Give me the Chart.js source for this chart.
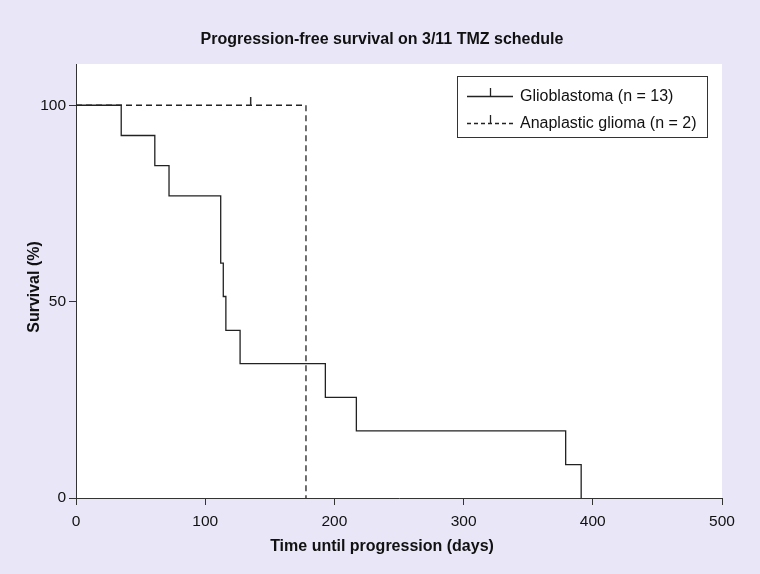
<!DOCTYPE html>
<html>
<head>
<meta charset="utf-8">
<script src="https://cdn.jsdelivr.net/npm/chart.js@4"></script>
<style>
  html, body { margin: 0; padding: 0; background: #e9e6f8; }
  #wrap { width: 760px; height: 574px; }
</style>
</head>
<body>
<div id="wrap"><canvas id="km"></canvas></div>
<script>
// data
const gbmDays = [0, 35, 61, 72, 112, 114, 116, 127, 193, 217, 379, 391];
const gbmSurv = [100, 92.3, 84.6, 76.9, 59.8, 51.3, 42.7, 34.2, 25.6, 17.1, 8.5, 0];
const agDays = [0, 178];
const agSurv = [100, 0];
const agCensorDays = [135];
const agCensorSurv = [100];
const xTicks = [0, 100, 200, 300, 400, 500];
const yTicks = [0, 50, 100];

const ink = '#222';
const font = '"Liberation Sans", Arial, sans-serif';

// little upward tick for censored cases
function censorMark() {
  const c = document.createElement('canvas');
  c.width = 3; c.height = 17;
  const g = c.getContext('2d');
  g.fillStyle = ink;
  g.fillRect(1, 0, 1.4, 9);
  return c;
}

const pts = (xs, ys) => xs.map((x, i) => ({ x: x, y: ys[i] }));

const bgPlugin = {
  id: 'bg',
  beforeDraw(chart) {
    const { ctx, chartArea: a } = chart;
    ctx.save();
    ctx.fillStyle = '#e9e6f8';
    ctx.fillRect(0, 0, chart.width, chart.height);
    ctx.fillStyle = '#fff';
    ctx.fillRect(a.left, a.top, a.right - a.left, a.bottom - a.top);
    ctx.restore();
  },
  afterDraw(chart) {
    const { ctx } = chart;
    ctx.save();
    ctx.fillStyle = '#111';
    ctx.textAlign = 'center';
    ctx.textBaseline = 'middle';
    ctx.font = 'bold 16px ' + font;
    ctx.fillText('Progression-free survival on 3/11 TMZ schedule', 382, 40);
    ctx.fillText('Time until progression (days)', 382, 547);
    ctx.translate(35, 287);
    ctx.rotate(-Math.PI / 2);
    ctx.fillText('Survival (%)', 0, 0);
    ctx.restore();

    // legend
    const L = 457, T = 76, R = 707, B = 137;
    ctx.save();
    ctx.strokeStyle = '#333';
    ctx.lineWidth = 1;
    ctx.strokeRect(L + 0.5, T + 0.5, R - L, B - T);
    ctx.font = '16px ' + font;
    ctx.fillStyle = '#111';
    ctx.textAlign = 'left';
    ctx.textBaseline = 'middle';
    const rows = [
      { y: 96, dash: [], label: 'Glioblastoma (n = 13)' },
      { y: 123, dash: [4, 3], label: 'Anaplastic glioma (n = 2)' }
    ];
    rows.forEach(r => {
      ctx.strokeStyle = ink;
      ctx.lineWidth = 1.3;
      ctx.setLineDash(r.dash);
      ctx.beginPath();
      ctx.moveTo(467, r.y + 0.5);
      ctx.lineTo(513, r.y + 0.5);
      ctx.stroke();
      ctx.setLineDash([]);
      ctx.beginPath();
      ctx.moveTo(490.5, r.y - 8);
      ctx.lineTo(490.5, r.y);
      ctx.stroke();
      ctx.fillText(r.label, 520, r.y + 1);
    });
    ctx.restore();
  }
};

new Chart(document.getElementById('km'), {
  type: 'scatter',
  data: {
    datasets: [
      {
        label: 'Anaplastic glioma (n = 2)',
        data: pts(agDays, agSurv),
        showLine: true,
        stepped: true,
        borderColor: ink,
        borderWidth: 1.3,
        borderDash: [6, 4],
        pointRadius: 0
      },
      {
        label: 'Glioblastoma (n = 13)',
        data: pts(gbmDays, gbmSurv),
        showLine: true,
        stepped: true,
        borderColor: ink,
        borderWidth: 1.3,
        pointRadius: 0
      },
      {
        label: 'censored',
        data: pts(agCensorDays, agCensorSurv),
        pointStyle: censorMark(),
        pointRadius: 5
      }
    ]
  },
  options: {
    responsive: true,
    maintainAspectRatio: false,
    animation: false,
    layout: { padding: { left: 0, right: 38, top: 64, bottom: 0 } },
    plugins: { legend: { display: false }, tooltip: { enabled: false } },
    scales: {
      x: {
        type: 'linear',
        min: 0, max: 500,
        afterBuildTicks: s => { s.ticks = xTicks.map(v => ({ value: v })); },
        afterFit: s => { s.height = 76; },
        grid: { drawOnChartArea: false, drawTicks: true, tickLength: 7, color: '#333', lineWidth: 1 },
        border: { color: '#333', width: 1 },
        ticks: { color: '#111', font: { family: font, size: 15.5 }, padding: 7, maxRotation: 0 }
      },
      y: {
        min: 0, max: 110.5,
        afterBuildTicks: s => { s.ticks = yTicks.map(v => ({ value: v })); },
        afterFit: s => { s.width = 76; },
        grid: { drawOnChartArea: false, drawTicks: true, tickLength: 7, color: '#333', lineWidth: 1 },
        border: { color: '#333', width: 1 },
        ticks: { color: '#111', font: { family: font, size: 15.5 }, padding: 3 }
      }
    }
  },
  plugins: [bgPlugin]
});
</script>
</body>
</html>
